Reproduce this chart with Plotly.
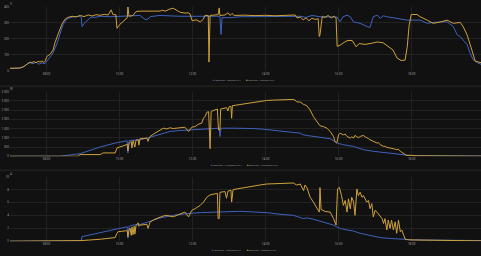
import pandas as pd
import plotly.graph_objects as go

# ---------------- data (time in decimal hours, value) ----------------
V_PV1 = [(7.00,16),(7.27,18),(7.41,30),(7.49,48),(7.55,50),(7.63,45),(7.71,55),(7.79,42),(7.88,50),(7.96,45),(8.01,60),(8.10,92),(8.18,112),(8.29,173),(8.37,235),(8.45,286),(8.53,316),(8.59,327),(8.70,335),(8.81,337),(8.92,340),(8.95,335),(8.97,276),(9.05,300),(9.14,320),(9.22,335),(9.33,333),(9.47,340),(9.74,337),(10.01,341),(10.29,343),(10.56,345),(10.70,320),(10.78,322),(10.84,338),(11.11,345),(11.66,340),(12.21,338),(12.75,340),(12.78,226),(12.81,332),(13.03,331),(13.30,337),(13.99,338),(14.53,337),(14.95,340),(15.11,333),(15.27,345),(15.49,337),(15.96,335),(16.04,306),(16.12,337),(16.23,347),(16.32,337),(16.40,306),(16.59,296),(16.78,276),(16.86,270),(16.95,337),(17.06,347),(17.14,327),(17.22,343),(17.33,337),(17.49,331),(17.88,316),(18.23,316),(18.43,296),(18.59,302),(18.97,306),(19.14,276),(19.25,224),(19.33,214),(19.41,194),(19.52,163),(19.60,112),(19.68,71),(19.80,51),(19.90,41)]

V_PV2 = [(7.00,16),(7.22,16),(7.27,18),(7.36,25),(7.41,35),(7.49,45),(7.55,55),(7.60,52),(7.66,58),(7.71,50),(7.77,60),(7.82,55),(7.88,62),(7.93,52),(7.96,60),(8.01,90),(8.10,104),(8.18,130),(8.23,175),(8.32,235),(8.42,290),(8.51,322),(8.59,333),(8.70,340),(8.81,336),(8.92,345),(9.03,338),(9.14,348),(9.25,342),(9.36,350),(9.47,346),(9.58,352),(9.69,348),(9.77,380),(9.82,350),(9.90,350),(9.93,265),(10.01,290),(10.12,315),(10.21,330),(10.23,398),(10.26,340),(10.37,345),(10.45,370),(10.56,372),(10.84,370),(11.11,372),(11.16,378),(11.25,372),(11.38,385),(11.47,390),(11.58,375),(11.66,365),(11.79,360),(11.88,362),(11.93,355),(11.99,312),(12.10,318),(12.21,305),(12.29,320),(12.34,345),(12.43,345),(12.45,55),(12.48,345),(12.62,348),(12.70,350),(12.73,392),(12.75,345),(12.89,348),(12.97,362),(13.03,345),(13.08,358),(13.14,345),(13.44,347),(13.71,344),(13.99,346),(14.26,343),(14.53,345),(14.81,348),(14.86,330),(14.95,335),(15.03,318),(15.11,330),(15.19,312),(15.27,328),(15.36,320),(15.44,325),(15.47,214),(15.49,224),(15.55,337),(15.63,333),(15.71,345),(15.80,330),(15.88,340),(15.93,330),(15.96,153),(16.04,160),(16.12,173),(16.23,188),(16.37,190),(16.48,150),(16.56,170),(16.73,165),(16.86,170),(17.06,180),(17.22,175),(17.36,153),(17.49,130),(17.60,80),(17.71,65),(17.82,67),(17.88,150),(17.93,280),(17.99,351),(18.15,351),(18.23,337),(18.43,316),(18.59,296),(18.78,304),(18.97,316),(19.14,296),(19.33,302),(19.41,276),(19.52,224),(19.66,122),(19.74,61),(19.90,51)]

W_PV1 = [(7.00,0),(8.37,0),(8.92,140),(9.47,500),(9.88,715),(10.21,840),(10.23,180),(10.26,850),(10.37,870),(10.56,880),(10.75,983),(10.97,1100),(11.11,1197),(11.38,1340),(11.66,1394),(11.93,1430),(12.21,1483),(12.44,1519),(12.73,1519),(12.75,1072),(12.78,1519),(13.11,1519),(13.38,1519),(13.66,1500),(13.93,1465),(14.21,1394),(14.48,1340),(14.76,1287),(14.95,1251),(15.03,1161),(15.13,1126),(15.31,1072),(15.49,1036),(15.77,947),(15.96,715),(16.12,625),(16.40,536),(16.68,357),(16.95,268),(17.33,179),(17.69,89),(17.88,54),(18.01,30),(19.90,10)]

W_PV2 = [(7.00,0),(8.86,0),(8.92,89),(9.47,89),(9.55,180),(9.88,180),(9.93,447),(10.07,536),(10.21,640),(10.23,300),(10.26,700),(10.32,800),(10.34,450),(10.37,850),(10.42,500),(10.45,870),(10.51,900),(10.53,600),(10.56,950),(10.75,983),(10.78,804),(10.81,983),(10.84,1072),(10.97,1251),(11.11,1430),(11.20,1519),(11.29,1480),(11.38,1540),(11.47,1500),(11.57,1519),(11.66,1519),(11.79,1573),(11.89,1340),(11.98,1573),(12.07,1608),(12.16,1733),(12.25,1787),(12.30,2055),(12.34,2144),(12.39,2377),(12.44,2412),(12.48,411),(12.51,2430),(12.62,2500),(12.68,2555),(12.71,1430),(12.75,1430),(12.77,2555),(12.84,2591),(12.93,2627),(12.97,2448),(13.00,2680),(13.05,2700),(13.07,2055),(13.09,2734),(13.30,2806),(13.49,2860),(13.67,2913),(13.85,2984),(14.03,3020),(14.21,3038),(14.40,3056),(14.58,3038),(14.76,3074),(14.81,3038),(14.85,2949),(14.95,2930),(15.04,2806),(15.13,2734),(15.22,2502),(15.31,2144),(15.40,1876),(15.49,1650),(15.58,1608),(15.68,1519),(15.77,1340),(15.86,1072),(15.90,804),(15.95,715),(16.00,1161),(16.04,1251),(16.13,1161),(16.18,1200),(16.23,1072),(16.32,983),(16.36,1050),(16.41,983),(16.45,1130),(16.50,1072),(16.54,1000),(16.59,1072),(16.68,1126),(16.73,1050),(16.77,983),(16.82,950),(16.86,893),(16.95,804),(17.00,760),(17.05,715),(17.09,740),(17.14,625),(17.23,536),(17.27,540),(17.32,482),(17.41,447),(17.45,460),(17.50,411),(17.59,357),(17.64,380),(17.69,268),(17.78,143),(17.87,36),(17.96,54),(18.14,25),(19.90,5)]

A_PV1 = [(7.00,0),(8.95,0),(8.97,0.7),(10.21,2.24),(10.23,0.46),(10.26,2.3),(10.37,2.49),(10.56,2.6),(10.75,2.9),(10.92,3.25),(11.11,3.6),(11.47,4.0),(11.84,4.27),(12.21,4.42),(12.57,4.52),(12.93,4.62),(13.30,4.62),(13.67,4.52),(14.03,4.42),(14.40,4.16),(14.76,4.0),(15.03,3.5),(15.13,3.6),(15.31,3.4),(15.49,3.1),(15.68,2.85),(15.86,2.49),(15.95,2.24),(16.04,1.98),(16.23,1.73),(16.41,1.57),(16.59,1.22),(16.77,0.97),(16.95,0.71),(17.14,0.56),(17.32,0.46),(17.69,0.36),(17.87,0.25),(18.05,0.2),(19.90,0.1)]

A_PV2 = [(7.00,0),(8.92,0),(8.97,0.1),(9.47,0.3),(9.74,0.46),(9.88,0.56),(9.93,1.22),(9.96,1.47),(10.21,1.63),(10.23,0.7),(10.26,1.7),(10.29,2.0),(10.32,0.9),(10.34,2.2),(10.37,1.0),(10.40,2.3),(10.42,1.1),(10.45,2.4),(10.51,2.85),(10.53,2.3),(10.56,2.49),(10.75,2.6),(10.78,1.98),(10.81,2.7),(10.84,3.0),(10.97,3.4),(11.11,3.76),(11.20,3.9),(11.29,4.0),(11.38,3.85),(11.47,3.76),(11.57,4.0),(11.66,4.16),(11.79,4.5),(11.89,3.76),(11.98,4.78),(12.07,5.03),(12.21,5.54),(12.30,6.05),(12.39,6.8),(12.48,7.16),(12.57,7.3),(12.68,7.4),(12.70,3.5),(12.73,3.5),(12.75,7.57),(12.89,7.67),(12.93,6.65),(12.97,7.75),(13.05,7.9),(13.07,6.05),(13.11,7.98),(13.30,8.18),(13.49,8.33),(13.67,8.59),(13.85,8.69),(14.03,8.84),(14.21,8.89),(14.40,8.94),(14.58,8.89),(14.76,9.0),(14.85,8.69),(14.95,8.84),(15.04,7.82),(15.08,8.69),(15.13,8.33),(15.22,6.8),(15.31,6.05),(15.40,5.28),(15.47,4.5),(15.49,8.3),(15.52,4.9),(15.63,4.6),(15.72,4.5),(15.77,4.5),(15.86,3.5),(15.90,2.74),(15.93,2.5),(15.97,8.08),(16.02,8.33),(16.08,7.06),(16.13,5.54),(16.18,6.3),(16.23,4.5),(16.27,6.55),(16.32,5.0),(16.36,6.8),(16.41,6.05),(16.45,4.0),(16.50,8.08),(16.54,7.06),(16.59,7.57),(16.64,6.8),(16.68,7.06),(16.77,6.05),(16.82,6.3),(16.86,5.03),(16.91,5.8),(16.95,3.76),(17.00,4.78),(17.05,4.5),(17.14,3.76),(17.19,3.5),(17.23,2.74),(17.27,3.5),(17.32,1.73),(17.36,3.25),(17.41,1.98),(17.45,3.25),(17.50,1.73),(17.55,2.99),(17.59,1.22),(17.64,3.25),(17.69,1.47),(17.73,1.73),(17.78,0.97),(17.82,0.36),(17.87,0.25),(17.96,0.2),(19.90,0.05)]

SERIES_NAMES = {
    "V": ["Onduleur - Tension PV1", "Onduleur - Tension PV2"],
    "W": ["Onduleur - Puissance PV1", "Onduleur - Puissance PV2"],
    "A": ["Onduleur - Intensité PV1", "Onduleur - Intensité PV2"],
}
V_TICKS = [0, 100, 200, 300, 400]
W_TICKS = [0, 500, 1000, 1500, 2000, 2500, 3000, 3500]
W_TICK_LABELS = ["0", "500", "1 000", "1 500", "2 000", "2 500", "3 000", "3 500"]
A_TICKS = [0, 2, 4, 6, 8, 10]

# ---------------- style ----------------
BG = "#111111"
GRID = "#222222"
TXT = "#9a9a9a"
BLUE = "#3f62bd"
GOLD = "#cfa23c"
FONT = "Roboto"
W, H = 481, 256
BASE = pd.Timestamp("2024-06-15")


def tt(points):
    return [BASE + pd.Timedelta(hours=p[0]) for p in points]


def vv(points):
    return [p[1] for p in points]


def py(px):
    return 1 - px / H


fig = go.Figure()
panels = [
    ("", V_PV1, V_PV2, "V"),
    ("2", W_PV1, W_PV2, "W"),
    ("3", A_PV1, A_PV2, "A"),
]
for suf, s1, s2, key in panels:
    for pts, col, name in ((s1, BLUE, SERIES_NAMES[key][0]), (s2, GOLD, SERIES_NAMES[key][1])):
        fig.add_trace(go.Scatter(
            x=tt(pts), y=vv(pts), mode="lines", name=name,
            line=dict(color=col, width=1), showlegend=False,
            xaxis="x" + suf, yaxis="y" + suf, hoverinfo="skip"))

xr = [BASE + pd.Timedelta(hours=7.0), BASE + pd.Timedelta(hours=19.9)]
xcommon = dict(
    type="date", range=xr, domain=[10 / W, 1], tickformat="%H:%M",
    dtick=2 * 3600 * 1000, tick0=BASE + pd.Timedelta(hours=8),
    showgrid=True, gridcolor=GRID, gridwidth=1, zeroline=False, showline=False,
    ticks="", tickfont=dict(size=3, color=TXT, family=FONT), fixedrange=True,
)
ycommon = dict(
    showgrid=True, gridcolor=GRID, gridwidth=1, zeroline=False, showline=False,
    ticks="", tickfont=dict(size=3, color=TXT, family=FONT), fixedrange=True,
)

layout = dict(
    width=W, height=H, margin=dict(l=0, r=0, t=0, b=0),
    paper_bgcolor=BG, plot_bgcolor=BG, showlegend=False,
    font=dict(family=FONT, color=TXT, size=3),
    xaxis=dict(xcommon, anchor="y"),
    xaxis2=dict(xcommon, anchor="y2"),
    xaxis3=dict(xcommon, anchor="y3"),
    yaxis=dict(ycommon, anchor="x", domain=[py(70), py(4.7)], range=[0, 400], tickvals=V_TICKS),
    yaxis2=dict(ycommon, anchor="x2", domain=[py(156.7), py(91)], range=[0, 3500],
                tickvals=W_TICKS, ticktext=W_TICK_LABELS),
    yaxis3=dict(ycommon, anchor="x3", domain=[py(243), py(177.3)], range=[0, 10], tickvals=A_TICKS),
)
fig.update_layout(**layout)

# card separators
for ypx in (85.5, 171.0):
    fig.add_shape(type="line", xref="paper", yref="paper", x0=0, x1=1,
                  y0=py(ypx), y1=py(ypx), line=dict(color="#1d1d1d", width=2))

# unit labels
for unit, ypx in (("V", 1.8), ("W", 88.3), ("A", 175.0)):
    fig.add_annotation(text=unit, xref="paper", yref="paper", x=11 / W, y=py(ypx),
                       xanchor="center", yanchor="middle", showarrow=False,
                       font=dict(size=3, color=TXT, family=FONT))

# legends (colored square + label)
legend_pos = [("V", 210.5, 243.5, 80.0), ("W", 208.5, 244.5, 165.7), ("A", 209.5, 244.5, 252.3)]
for key, x1, x2, ypx in legend_pos:
    for xpx, col, name in ((x1, BLUE, SERIES_NAMES[key][0]), (x2, GOLD, SERIES_NAMES[key][1])):
        fig.add_annotation(
            text=f"<span style='color:{col}'>■</span> {name}",
            xref="paper", yref="paper", x=xpx / W, y=py(ypx),
            xanchor="left", yanchor="middle", showarrow=False,
            font=dict(size=2.5, color=TXT, family=FONT))

fig.write_html("out.html", config={"displayModeBar": False})
